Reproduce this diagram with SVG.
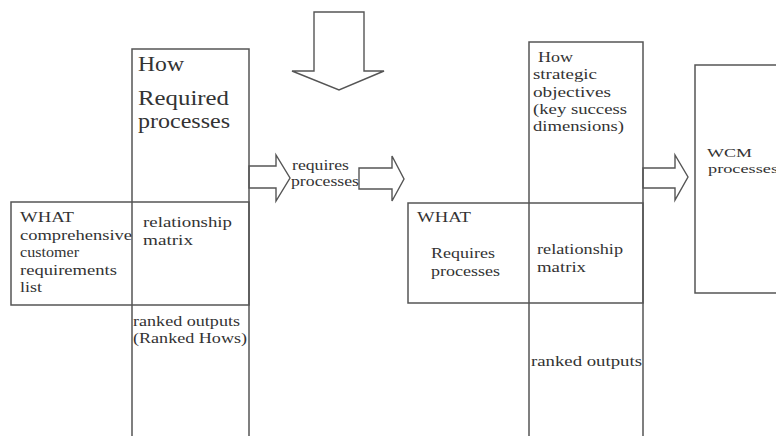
<svg xmlns="http://www.w3.org/2000/svg" width="776" height="436" viewBox="0 0 776 436">
<style>
.ln{fill:none;stroke:#555;stroke-width:1.5}
.ar{fill:#fff;stroke:#555;stroke-width:1.4;stroke-linejoin:miter}
text{font-family:"Liberation Serif","Times New Roman",serif;fill:#333;font-size:15.5px}
.big{font-size:20px}
.sm{font-size:13.5px}
</style>
<rect width="776" height="436" fill="#fff"/>
<g id="connectors">
<polygon class="ar" points="314,12 364,12 364,71 384,71 339,90 292,71 314,71"/>
<polygon class="ar" points="249,166 276,166 276,155 290,178 276,201 276,188 249,188"/>
<polygon class="ar" points="359,168 392,168 392,156 404,179 392,201 392,189 359,189"/>
<polygon class="ar" points="643,168 675,168 675,155 688,177 675,200 675,188 643,188"/>
</g>
<g id="left-how">
<polyline class="ln" points="132,436 132,49 249,49 249,436"/>
<text class="big" x="138" y="71" textLength="46" lengthAdjust="spacingAndGlyphs">How</text>
<text class="big" x="138" y="105" textLength="91" lengthAdjust="spacingAndGlyphs">Required</text>
<text class="big" x="138" y="128" textLength="92" lengthAdjust="spacingAndGlyphs">processes</text>
</g>
<g id="left-what">
<rect class="ln" x="11" y="202" width="238" height="103"/>
<text x="20" y="222" textLength="54" lengthAdjust="spacingAndGlyphs">WHAT</text>
<text x="20" y="240" textLength="112" lengthAdjust="spacingAndGlyphs">comprehensive</text>
<text x="20" y="257" textLength="59" lengthAdjust="spacingAndGlyphs">customer</text>
<text x="20" y="275" textLength="97" lengthAdjust="spacingAndGlyphs">requirements</text>
<text x="20" y="292" textLength="22" lengthAdjust="spacingAndGlyphs">list</text>
</g>
<g id="left-matrix">
<text x="143" y="227" textLength="89" lengthAdjust="spacingAndGlyphs">relationship</text>
<text x="143" y="245" textLength="50" lengthAdjust="spacingAndGlyphs">matrix</text>
</g>
<g id="left-ranked">
<text x="133" y="326" textLength="107" lengthAdjust="spacingAndGlyphs">ranked outputs</text>
<text x="133" y="343" textLength="114" lengthAdjust="spacingAndGlyphs">(Ranked Hows)</text>
</g>
<g id="mid-label">
<text x="292" y="170" textLength="57" lengthAdjust="spacingAndGlyphs">requires</text>
<text x="291" y="186" textLength="68" lengthAdjust="spacingAndGlyphs">processes</text>
</g>
<g id="right-how">
<polyline class="ln" points="529,436 529,42 643,42 643,436"/>
<text x="538" y="62" textLength="35" lengthAdjust="spacingAndGlyphs">How</text>
<text x="533" y="79" textLength="64" lengthAdjust="spacingAndGlyphs">strategic</text>
<text x="533" y="97" textLength="78" lengthAdjust="spacingAndGlyphs">objectives</text>
<text x="533" y="114" textLength="94" lengthAdjust="spacingAndGlyphs">(key success</text>
<text x="533" y="131" textLength="91" lengthAdjust="spacingAndGlyphs">dimensions)</text>
</g>
<g id="right-what">
<rect class="ln" x="408" y="203" width="235" height="100"/>
<text x="417" y="222" textLength="54" lengthAdjust="spacingAndGlyphs">WHAT</text>
<text x="431" y="258" textLength="64" lengthAdjust="spacingAndGlyphs">Requires</text>
<text x="431" y="276" textLength="69" lengthAdjust="spacingAndGlyphs">processes</text>
</g>
<g id="right-matrix">
<text x="537" y="254" textLength="86" lengthAdjust="spacingAndGlyphs">relationship</text>
<text x="537" y="272" textLength="49" lengthAdjust="spacingAndGlyphs">matrix</text>
</g>
<g id="right-ranked">
<text x="531" y="366" textLength="111" lengthAdjust="spacingAndGlyphs">ranked outputs</text>
</g>
<g id="wcm">
<rect class="ln" x="695" y="65" width="100" height="228"/>
<text class="sm" x="707" y="157" textLength="45" lengthAdjust="spacingAndGlyphs">WCM</text>
<text class="sm" x="708" y="173" textLength="70" lengthAdjust="spacingAndGlyphs">processes</text>
</g>
</svg>
